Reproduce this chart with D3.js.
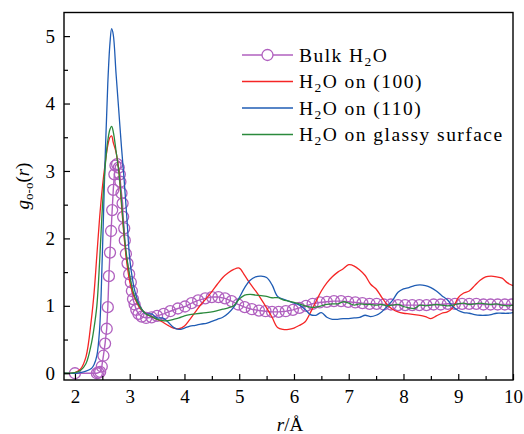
<!DOCTYPE html>
<html>
<head>
<meta charset="utf-8">
<script src="https://cdn.jsdelivr.net/npm/d3@7"></script>
<style>
  body { margin: 0; background: #fff; }
  text { font-family: "Liberation Serif", "Times New Roman", serif; fill: #000; }
</style>
</head>
<body>
<svg id="chart" width="524" height="434"></svg>
<script>
// r grid shared by the three simulated curves
var rGrid = [1.80, 2.00, 2.10, 2.20, 2.30, 2.35, 2.40, 2.45, 2.50, 2.55, 2.60, 2.64, 2.67, 2.70, 2.75, 2.80, 2.85, 2.90, 2.95, 3.00, 3.05, 3.10,
  3.2, 3.3, 3.4, 3.5, 3.6, 3.7, 3.8, 3.9,
  4.0, 4.1, 4.2, 4.3, 4.4, 4.5, 4.6, 4.7, 4.8, 4.9,
  5.0, 5.1, 5.2, 5.3, 5.4, 5.5, 5.6, 5.7, 5.8, 5.9,
  6.0, 6.1, 6.2, 6.3, 6.4, 6.5, 6.6, 6.7, 6.8, 6.9,
  7.0, 7.1, 7.2, 7.3, 7.4, 7.5, 7.6, 7.7, 7.8, 7.9,
  8.0, 8.1, 8.2, 8.3, 8.4, 8.5, 8.6, 8.7, 8.8, 8.9,
  9.0, 9.1, 9.2, 9.3, 9.4, 9.5, 9.6, 9.7, 9.8, 9.9, 10.0];

var g100 = [0.00, 0.01, 0.06, 0.24, 0.80, 1.20, 1.75, 2.30, 2.75, 3.10, 3.38, 3.50, 3.52, 3.42, 3.28, 3.02, 2.50, 2.00, 1.62, 1.36, 1.20, 1.10,
  0.95, 0.88, 0.84, 0.80, 0.76, 0.71, 0.67, 0.66,
  0.70, 0.80, 0.91, 1.02, 1.11, 1.21, 1.32, 1.42, 1.49, 1.54,
  1.56, 1.45, 1.33, 1.22, 1.10, 0.97, 0.83, 0.68, 0.65, 0.65,
  0.67, 0.71, 0.76, 0.90, 1.06, 1.22, 1.34, 1.43, 1.50, 1.55,
  1.61, 1.59, 1.53, 1.45, 1.32, 1.25, 1.13, 1.02, 0.95, 0.91,
  0.89, 0.88, 0.87, 0.86, 0.84, 0.81, 0.85, 0.89, 0.91, 0.97,
  1.12, 1.19, 1.22, 1.30, 1.38, 1.43, 1.44, 1.43, 1.41, 1.34, 1.30];

var g110 = [0.00, 0.00, 0.01, 0.03, 0.07, 0.13, 0.26, 0.65, 1.75, 3.15, 4.30, 4.90, 5.11, 5.02, 4.45, 3.90, 3.35, 2.85, 2.28, 1.70, 1.40, 1.20,
  0.97, 0.88, 0.88, 0.82, 0.82, 0.76, 0.68, 0.65,
  0.67, 0.70, 0.71, 0.73, 0.74, 0.77, 0.80, 0.83, 0.89, 0.98,
  1.12, 1.27, 1.38, 1.43, 1.44, 1.42, 1.31, 1.14, 1.10, 1.07,
  1.04, 1.01, 0.95, 0.87, 0.86, 0.90, 0.83, 0.80, 0.80, 0.81,
  0.81, 0.82, 0.83, 0.86, 0.84, 0.86, 0.91, 0.99, 1.08, 1.20,
  1.25, 1.27, 1.30, 1.31, 1.30, 1.27, 1.22, 1.15, 1.09, 0.99,
  0.93, 0.90, 0.89, 0.87, 0.86, 0.86, 0.87, 0.89, 0.89, 0.89, 0.90];

var gGlassy = [0.00, 0.01, 0.04, 0.14, 0.44, 0.68, 1.00, 1.65, 2.45, 3.05, 3.45, 3.62, 3.66, 3.58, 3.30, 3.00, 2.55, 2.05, 1.70, 1.45, 1.25, 1.12,
  0.97, 0.88, 0.84, 0.80, 0.78, 0.78, 0.80, 0.82,
  0.85, 0.87, 0.88, 0.89, 0.90, 0.91, 0.93, 0.95, 0.97, 1.00,
  1.10, 1.16, 1.17, 1.16, 1.15, 1.14, 1.12, 1.12, 1.09, 1.07,
  1.05, 1.03, 1.00, 0.98, 0.98, 1.00, 1.02, 1.03, 1.03, 1.06,
  1.04, 1.01, 1.03, 1.02, 1.02, 1.01, 1.02, 1.00, 1.01, 1.02,
  0.99, 0.97, 0.96, 1.01, 1.00, 1.01, 1.02, 1.01, 1.00, 1.01,
  1.03, 1.04, 1.02, 1.03, 1.04, 1.03, 1.02, 1.03, 1.01, 1.00, 1.01];

// bulk water (markers)
var bulkR = [2.00, 2.40, 2.43, 2.46, 2.49, 2.52, 2.55, 2.58, 2.60, 2.62, 2.64, 2.66, 2.68, 2.70, 2.72, 2.74, 2.77, 2.80, 2.82, 2.83,
  2.85, 2.87, 2.88, 2.90, 2.91, 2.93, 2.96, 2.99, 3.02, 3.04, 3.06, 3.09, 3.12, 3.16, 3.22, 3.30, 3.40, 3.50, 3.62, 3.74,
  3.88, 4.01, 4.13, 4.25, 4.38, 4.50, 4.62, 4.74, 4.86, 4.98, 5.10, 5.23, 5.36, 5.48, 5.60, 5.72, 5.85, 5.98, 6.10, 6.22,
  6.34, 6.47, 6.60, 6.73, 6.86, 6.99, 7.12, 7.25, 7.38, 7.51, 7.64, 7.77, 7.90, 8.03, 8.16, 8.29, 8.42, 8.55, 8.68, 8.81,
  8.94, 9.07, 9.20, 9.33, 9.46, 9.59, 9.72, 9.85, 9.98];
var bulkG = [0.00, 0.00, 0.01, 0.02, 0.10, 0.26, 0.44, 0.66, 0.98, 1.44, 1.79, 2.11, 2.42, 2.72, 2.95, 3.08, 3.10, 3.05, 2.95, 2.84,
  2.67, 2.52, 2.32, 2.15, 1.97, 1.77, 1.63, 1.47, 1.35, 1.22, 1.10, 1.02, 0.94, 0.88, 0.84, 0.82, 0.83, 0.85, 0.88, 0.92,
  0.96, 0.99, 1.04, 1.08, 1.11, 1.13, 1.13, 1.11, 1.07, 1.02, 0.98, 0.95, 0.93, 0.92, 0.91, 0.91, 0.92, 0.94, 0.97, 1.00,
  1.03, 1.05, 1.06, 1.07, 1.07, 1.06, 1.05, 1.04, 1.03, 1.03, 1.02, 1.02, 1.01, 1.01, 1.01, 1.01, 1.01, 1.02, 1.02, 1.03,
  1.03, 1.03, 1.03, 1.03, 1.02, 1.02, 1.02, 1.02, 1.02];

var xTicks = [2, 3, 4, 5, 6, 7, 8, 9, 10];
var xMinor = [2.5, 3.5, 4.5, 5.5, 6.5, 7.5, 8.5, 9.5];
var yTicks = [0, 1, 2, 3, 4, 5];
var yMinor = [0.5, 1.5, 2.5, 3.5, 4.5];

var legendNames = ['Bulk', '(100)', '(110)', 'glassy surface'];

var purple = '#b060bf';
var red = '#f52525';
var blue = '#1f5cb4';
var green = '#2b8a3c';

var svg = d3.select('#chart');
svg.append('rect').attr('width', 524).attr('height', 434).attr('fill', '#fff');

var plotLeft = 64, plotRight = 513, plotTop = 12.5, plotBottom = 380;

var x = d3.scaleLinear().domain([1.8, 10]).range([plotLeft, plotRight]);
var y = d3.scaleLinear().domain([-0.1, 5.35]).range([plotBottom, plotTop]);

svg.append('clipPath').attr('id', 'plot-clip')
  .append('rect')
  .attr('x', plotLeft).attr('y', plotTop)
  .attr('width', plotRight - plotLeft).attr('height', plotBottom - plotTop);

var plot = svg.append('g').attr('clip-path', 'url(#plot-clip)');

function pairs(rs, gs) {
  var out = [];
  for (var i = 0; i < Math.min(rs.length, gs.length); i++) out.push([rs[i], gs[i]]);
  return out;
}

var smoothLine = d3.line()
  .x(function(d) { return x(d[0]); })
  .y(function(d) { return y(d[1]); })
  .curve(d3.curveCatmullRom.alpha(0.5));

var straightLine = d3.line()
  .x(function(d) { return x(d[0]); })
  .y(function(d) { return y(d[1]); });

// bulk water: connecting line + open circles
var bulk = pairs(bulkR, bulkG);
plot.append('path')
  .datum(bulk)
  .attr('d', straightLine)
  .attr('fill', 'none')
  .attr('stroke', purple)
  .attr('stroke-width', 1.4);

plot.selectAll('.bulk-pt')
  .data(bulk)
  .enter().append('circle')
  .attr('class', 'bulk-pt')
  .attr('cx', function(d) { return x(d[0]); })
  .attr('cy', function(d) { return y(d[1]); })
  .attr('r', 5.5)
  .attr('fill', 'none')
  .attr('stroke', purple)
  .attr('stroke-width', 1.3);

var series = [
  { vals: g100, color: red },
  { vals: g110, color: blue },
  { vals: gGlassy, color: green }
];

series.forEach(function(s) {
  plot.append('path')
    .datum(pairs(rGrid, s.vals))
    .attr('d', smoothLine)
    .attr('fill', 'none')
    .attr('stroke', s.color)
    .attr('stroke-width', 1.3);
});

// axes (ticks point inward)
var xAxis = svg.append('g')
  .attr('transform', 'translate(0,' + plotBottom + ')')
  .call(d3.axisBottom(x).tickValues(xTicks).tickSize(-6).tickFormat(d3.format('d')));
svg.append('g')
  .attr('transform', 'translate(0,' + plotBottom + ')')
  .call(d3.axisBottom(x).tickValues(xMinor).tickSize(-4).tickFormat(''));

var yAxis = svg.append('g')
  .attr('transform', 'translate(' + plotLeft + ',0)')
  .call(d3.axisLeft(y).tickValues(yTicks).tickSize(-6).tickFormat(d3.format('d')));
svg.append('g')
  .attr('transform', 'translate(' + plotLeft + ',0)')
  .call(d3.axisLeft(y).tickValues(yMinor).tickSize(-4).tickFormat(''));

svg.selectAll('.domain').remove();
svg.selectAll('.tick line').attr('stroke', '#000').attr('stroke-width', 1.2);

xAxis.selectAll('.tick text')
  .attr('y', 10)
  .attr('font-size', 19)
  .attr('font-family', '"Liberation Serif", serif');
yAxis.selectAll('.tick text')
  .attr('x', -9)
  .attr('font-size', 19)
  .attr('font-family', '"Liberation Serif", serif');

// frame
svg.append('rect')
  .attr('x', plotLeft).attr('y', plotTop)
  .attr('width', plotRight - plotLeft).attr('height', plotBottom - plotTop)
  .attr('fill', 'none')
  .attr('stroke', '#000')
  .attr('stroke-width', 1.4);

// axis titles
var xLabel = svg.append('text')
  .attr('x', 290).attr('y', 431)
  .attr('text-anchor', 'middle')
  .attr('font-size', 19);
xLabel.append('tspan').attr('font-style', 'italic').text('r');
xLabel.append('tspan').text('/Å');

var yLabel = svg.append('text')
  .attr('transform', 'translate(29,186) rotate(-90)')
  .attr('text-anchor', 'middle')
  .attr('font-size', 19);
yLabel.append('tspan').attr('font-style', 'italic').text('g');
yLabel.append('tspan').attr('font-size', 13).attr('dy', 4).text('o-o');
yLabel.append('tspan').attr('dy', -4).text('(');
yLabel.append('tspan').attr('font-style', 'italic').text('r');
yLabel.append('tspan').text(')');

// legend
var legendX = 242, legendLen = 51, legendY = 55, legendStep = 26.5;
var legendColors = [purple, red, blue, green];

legendNames.forEach(function(name, i) {
  var ly = legendY + i * legendStep;
  svg.append('line')
    .attr('x1', legendX).attr('x2', legendX + legendLen)
    .attr('y1', ly).attr('y2', ly)
    .attr('stroke', legendColors[i])
    .attr('stroke-width', 1.4);
  if (i === 0) {
    svg.append('circle')
      .attr('cx', legendX + legendLen / 2).attr('cy', ly)
      .attr('r', 5.5)
      .attr('fill', '#fff')
      .attr('stroke', purple)
      .attr('stroke-width', 1.3);
  }
  var t = svg.append('text')
    .attr('x', legendX + legendLen + 6)
    .attr('y', ly + 6.5)
    .attr('font-size', 19.5)
    .attr('letter-spacing', 1.45);
  if (i === 0) {
    t.append('tspan').text('Bulk H');
    t.append('tspan').attr('font-size', 13.5).attr('dy', 4).text('2');
    t.append('tspan').attr('dy', -4).text('O');
  } else {
    t.append('tspan').text('H');
    t.append('tspan').attr('font-size', 13.5).attr('dy', 4).text('2');
    t.append('tspan').attr('dy', -4).text('O on ' + name);
  }
});
</script>
</body>
</html>
